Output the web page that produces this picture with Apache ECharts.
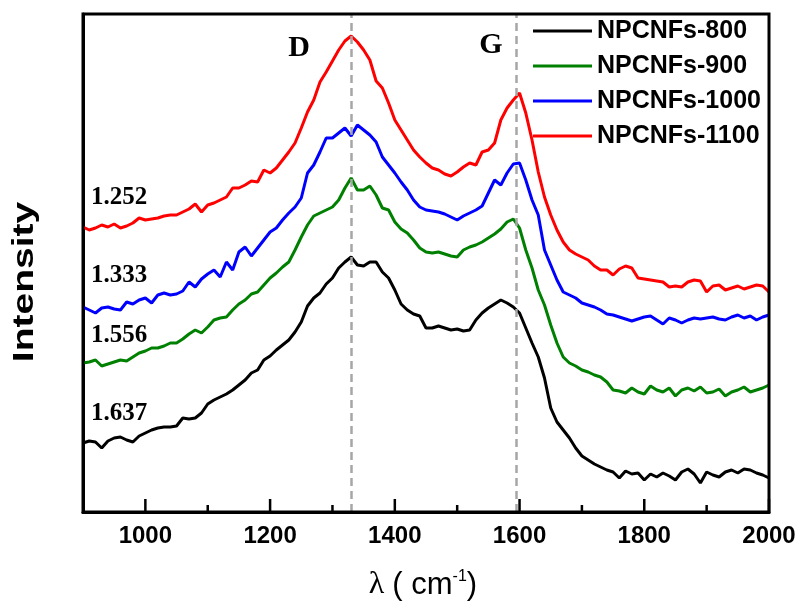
<!DOCTYPE html>
<html>
<head>
<meta charset="utf-8">
<script src="https://cdn.jsdelivr.net/npm/echarts@6/dist/echarts.min.js"></script>
<style>
  html, body { margin: 0; padding: 0; background: #fff; }
  #chart { width: 802px; height: 607px; }
</style>
</head>
<body>
<div id="chart"></div>
<script>
// Raman shift (cm-1)
const shift = [
  900, 910, 920, 930, 940, 950, 960, 970, 980, 990,
  1000, 1010, 1020, 1030, 1040, 1050, 1060, 1070, 1080, 1090,
  1100, 1110, 1120, 1130, 1140, 1150, 1160, 1170, 1180, 1190,
  1200, 1210, 1220, 1230, 1240, 1250, 1260, 1270, 1280, 1290,
  1300, 1310, 1320, 1330, 1340, 1350, 1360, 1370, 1380, 1390,
  1400, 1410, 1420, 1430, 1440, 1450, 1460, 1470, 1480, 1490,
  1500, 1510, 1520, 1530, 1540, 1550, 1560, 1570, 1580, 1590,
  1600, 1610, 1620, 1630, 1640, 1650, 1660, 1670, 1680, 1690,
  1700, 1710, 1720, 1730, 1740, 1750, 1760, 1770, 1780, 1790,
  1800, 1810, 1820, 1830, 1840, 1850, 1860, 1870, 1880, 1890,
  1900, 1910, 1920, 1930, 1940, 1950, 1960, 1970, 1980, 1990,
  2000
];

// intensities (a.u., curves offset as in the figure)
const npcnf800 = [
  69, 71, 70, 64, 71, 74, 75, 72, 70, 76,
  79, 82, 84, 85, 85, 86, 94, 93, 94, 99,
  108, 112, 115, 118, 122, 127, 132, 139, 142, 152,
  156, 162, 167, 172, 180, 190, 206, 214, 219, 228,
  234, 244, 250, 255, 247, 246, 250, 250, 240, 234,
  222, 208, 202, 198, 196, 184, 184, 186, 184, 182,
  183, 181, 182, 192, 199, 204, 208, 212, 209, 205,
  199, 184, 169, 155, 134, 104, 90, 82, 74, 64,
  56, 52, 48, 45, 42, 40, 34, 41, 38, 39,
  32, 38, 35, 39, 36, 32, 40, 43, 38, 29,
  40, 37, 35, 40, 42, 39, 43, 42, 39, 37,
  34
];
const npcnf900 = [
  149, 150, 152, 146, 148, 150, 152, 151, 155, 159,
  161, 164, 164, 166, 169, 169, 173, 178, 182, 179,
  185, 192, 194, 195, 202, 208, 212, 218, 220, 227,
  234, 239, 245, 250, 262, 275, 287, 296, 299, 302,
  305, 312, 324, 334, 322, 322, 326, 317, 304, 302,
  290, 283, 279, 272, 264, 260, 259, 260, 258, 256,
  255, 262, 265, 267, 270, 274, 278, 283, 290, 293,
  284, 262, 244, 222, 207, 187, 169, 155, 149, 146,
  142, 140, 137, 135, 130, 122, 121, 119, 124, 120,
  118, 126, 122, 120, 124, 116, 122, 124, 121, 125,
  119, 120, 123, 116, 120, 122, 125, 120, 122, 124,
  127
];
const npcnf1000 = [
  205, 202, 199, 204, 205, 203, 202, 210, 208, 212,
  214, 209, 217, 219, 217, 218, 221, 230, 225, 233,
  238, 242, 235, 250, 242, 260, 265, 256, 264, 272,
  280, 284, 292, 299, 305, 314, 339, 347, 360, 374,
  374, 379, 384, 376, 387, 382, 377, 370, 355, 347,
  339, 330, 322, 312, 305, 302, 301, 300, 298, 295,
  292, 296, 299, 302, 306, 319, 332, 327, 339, 348,
  349, 332, 312, 297, 262, 247, 232, 220, 217, 214,
  209, 207, 205, 202, 198, 197, 195, 193, 191, 193,
  195, 196, 192, 188, 194, 192, 189, 192, 194, 193,
  194, 195, 193, 192, 195, 197, 194, 196, 192, 195,
  197
];
const npcnf1100 = [
  285, 282, 284, 287, 285, 288, 284, 286, 289, 294,
  292, 293, 294, 296, 297, 297, 300, 303, 308, 300,
  307, 309, 312, 315, 324, 324, 327, 331, 330, 342,
  339, 344, 352, 360, 369, 384, 400, 412, 430, 440,
  451, 462, 471, 476, 470, 462, 452, 431, 424, 409,
  392, 382, 372, 362, 355, 349, 344, 342, 338, 336,
  340, 345, 349, 347, 360, 362, 369, 392, 404, 412,
  419, 399, 372, 340, 315, 297, 282, 270, 262, 258,
  255, 252, 246, 242, 242, 237, 243, 246, 244, 234,
  233, 232, 231, 230, 225, 226, 225, 230, 232, 231,
  220, 226, 227, 222, 224, 226, 223, 225, 227, 226,
  220
];

const names = ['NPCNFs-800', 'NPCNFs-900', 'NPCNFs-1000', 'NPCNFs-1100'];
const colors = ['#000000', '#008000', '#0000ff', '#ff0000'];
const majorTicks = [1000, 1200, 1400, 1600, 1800, 2000];
const minorTicks = [1100, 1300, 1500, 1700, 1900];
const bandPos = [1330, 1595];       // D and G band
const ratios = ['1.252', '1.333', '1.556', '1.637'];
const ratioY = [198, 276, 336, 414];

const chart = echarts.init(document.getElementById('chart'));

const pair = arr => shift.map((x, i) => [x, arr[i]]);
const allData = [npcnf800, npcnf900, npcnf1000, npcnf1100];

const series = allData.map((d, i) => ({
  name: names[i],
  type: 'line',
  data: pair(d),
  symbol: 'none',
  lineStyle: { color: colors[i], width: 3 },
  itemStyle: { color: colors[i] },
  z: 3
}));
// dashed lines for the D and G bands
series[0].markLine = {
  silent: true,
  symbol: 'none',
  label: { show: false },
  lineStyle: { color: '#a6a6a6', type: [8, 5], width: 2.5 },
  data: bandPos.map(v => ({ xAxis: v }))
};

const graphics = [
  { type: 'text', x: 299, y: 48, style: { text: 'D', font: 'bold 30px "Liberation Serif"', fill: '#000', align: 'center', verticalAlign: 'middle' } },
  { type: 'text', x: 491, y: 45, style: { text: 'G', font: 'bold 30px "Liberation Serif"', fill: '#000', align: 'center', verticalAlign: 'middle' } },
  {
    type: 'text', x: 25, y: 282, rotation: Math.PI / 2, scaleX: 1.3,
    style: { text: 'Intensity', font: 'bold 30px "Liberation Sans"', fill: '#000', align: 'center', verticalAlign: 'middle' }
  },
  {
    type: 'text', x: 423, y: 585,
    style: {
      text: '{l|λ }{a|( cm}{s|-1}{a|)}',
      align: 'center', verticalAlign: 'middle', fill: '#000',
      rich: {
        l: { fontFamily: 'Liberation Serif', fontSize: 32, fill: '#000' },
        a: { fontFamily: 'Liberation Sans', fontSize: 31, fill: '#000' },
        s: { fontFamily: 'Liberation Sans', fontSize: 16, fill: '#000', padding: [0, 0, 16, 0] }
      }
    }
  }
];
ratios.forEach((t, i) => {
  graphics.push({
    type: 'text', x: 91, y: ratioY[i],
    style: { text: t, font: 'bold 25px "Liberation Serif"', fill: '#000', align: 'left', verticalAlign: 'middle' }
  });
});

chart.setOption({
  animation: false,
  backgroundColor: '#fff',
  grid: { left: 83, right: 33, top: 14, bottom: 95 },
  legend: {
    data: names.map((n, i) => ({ name: n, icon: 'rect', itemStyle: { color: colors[i] } })),
    orient: 'vertical',
    left: 528,
    top: 12,
    itemWidth: 59,
    itemHeight: 3,
    itemGap: 7,
    textStyle: { fontFamily: 'Liberation Sans', fontWeight: 'bold', fontSize: 25, lineHeight: 28, color: '#000' }
  },
  xAxis: {
    type: 'value', min: 900, max: 2000,
    axisLine: { show: true, lineStyle: { color: '#000', width: 3 } },
    axisTick: { show: false },
    axisLabel: {
      customValues: majorTicks, formatter: v => String(v),
      color: '#000', fontFamily: 'Liberation Sans', fontWeight: 'bold', fontSize: 24, margin: 12
    },
    splitLine: { show: false }
  },
  yAxis: {
    type: 'value', min: 0, max: 498,
    axisLine: { show: true, lineStyle: { color: '#000', width: 3 } },
    axisTick: { show: false },
    axisLabel: { show: false },
    splitLine: { show: false }
  },
  graphic: graphics,
  series: series
});

// frame and inward ticks on their own layer, placed through the chart's own scales
const toPx = p => chart.convertToPixel({ gridIndex: 0 }, p);
const lo = toPx([900, 0]);
const hi = toPx([2000, 498]);
const extra = [{
  type: 'rect', zlevel: 1, z: 100, silent: true,
  shape: { x: lo[0], y: hi[1], width: hi[0] - lo[0], height: lo[1] - hi[1] },
  style: { fill: null, stroke: '#000', lineWidth: 3 }
}];
majorTicks.map(v => [v, 13]).concat(minorTicks.map(v => [v, 7])).forEach(([v, len]) => {
  const p = toPx([v, 0]);
  extra.push({
    type: 'line', zlevel: 1, z: 100, silent: true,
    shape: { x1: p[0], y1: p[1], x2: p[0], y2: p[1] - len },
    style: { stroke: '#000', lineWidth: 2.5 }
  });
});
chart.setOption({ graphic: graphics.concat(extra) });
</script>
</body>
</html>
